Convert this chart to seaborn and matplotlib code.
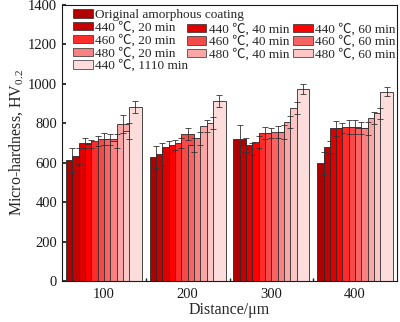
import matplotlib
matplotlib.use("Agg")
import matplotlib.pyplot as plt
from matplotlib.patches import Patch
from matplotlib.ticker import FixedLocator
import seaborn as sns
import pandas as pd
import numpy as np

# ---- data ----
distances = ["100", "200", "300", "400"]
conditions = ["Original amorphous coating",
              "440 \u2103, 20 min", "440 \u2103, 40 min", "440 \u2103, 60 min",
              "460 \u2103, 20 min", "460 \u2103, 40 min", "460 \u2103, 60 min",
              "480 \u2103, 20 min", "480 \u2103, 40 min", "480 \u2103, 60 min",
              "440 \u2103, 1110 min"]
colors = ["#b00000", "#c40000", "#dc0000", "#ff0000",
          "#ff2c2c", "#f54a4a", "#f86464",
          "#f88282", "#f8a6a6", "#fac6c6", "#fddcdc"]

hv_100 = [613, 633, 698, 693, 710, 721, 718, 711, 795, 760, 884]
hv_200 = [630, 643, 681, 689, 698, 744, 690, 723, 787, 800, 913]
hv_300 = [720, 690, 668, 706, 750, 752, 755, 757, 805, 876, 975]
hv_400 = [599, 681, 774, 775, 782, 782, 778, 774, 828, 850, 961]
err_100 = [60, 40, 25, 20, 25, 30, 30, 35, 45, 40, 30]
err_200 = [55, 55, 30, 25, 25, 30, 35, 35, 30, 30, 30]
err_300 = [70, 35, 30, 30, 30, 25, 30, 35, 30, 30, 25]
err_400 = [55, 30, 40, 25, 35, 35, 30, 35, 30, 30, 25]

hv_all = [hv_100, hv_200, hv_300, hv_400]
err_all = [err_100, err_200, err_300, err_400]

rows = []
for d, hv, er in zip(distances, hv_all, err_all):
    for c, v, e in zip(conditions, hv, er):
        rows.append({"Distance": d, "Condition": c, "HV": v, "Err": e})
df = pd.DataFrame(rows)

# ---- style ----
sns.set_theme(style="ticks")
plt.rcParams["font.family"] = ["Liberation Serif", "Noto Sans CJK SC", "DejaVu Sans"]
plt.rcParams["mathtext.fontset"] = "custom"
plt.rcParams["mathtext.rm"] = "Liberation Serif"
plt.rcParams["mathtext.it"] = "Liberation Serif:italic"

fig = plt.figure(figsize=(4.0, 3.22), dpi=100)
ax = fig.add_axes([0.155, 0.1273, 0.8375, 0.8572])

n = len(conditions)
total = 0.905
w = total / (n + 1)
sns.barplot(data=df, x="Distance", y="HV", hue="Condition", order=distances,
            hue_order=conditions, palette=colors, width=w * n, gap=-1.0,
            errorbar=None, edgecolor="#2a2a2a", linewidth=0.6, saturation=1,
            legend=False, ax=ax)

# error bars at bar centres
bar_containers = list(ax.containers)
for ci, cont in enumerate(bar_containers):
    xs = [b.get_x() + b.get_width() / 2 for b in cont.patches]
    ys = [b.get_height() for b in cont.patches]
    es = [err_all[di][ci] for di in range(len(distances))]
    ax.errorbar(xs, ys, yerr=es, fmt="none", ecolor="#333333",
                elinewidth=0.6, capsize=2.0, capthick=0.6, zorder=5)

ax.set_xlim(-0.5, 3.5)
ax.set_ylim(0, 1400)
ax.set_yticks(np.arange(0, 1401, 200))
ax.xaxis.set_minor_locator(FixedLocator([0.5, 1.5, 2.5]))
ax.tick_params(axis="both", which="both", direction="in", labelsize=10.5,
               colors="#1a1a1a")
ax.tick_params(axis="x", which="major", length=0, pad=5)
ax.tick_params(axis="x", which="minor", length=2.5)
ax.tick_params(axis="y", which="major", length=3)
for sp in ax.spines.values():
    sp.set_visible(True)
    sp.set_linewidth(0.8)
    sp.set_color("#1a1a1a")

ax.set_xlabel("Distance/\u03bcm", fontsize=11.5, labelpad=1)
ax.set_ylabel("Micro-hardness, HV$_{0.2}$", fontsize=11.5, labelpad=2)

# legends
handles = {c: Patch(facecolor=col, edgecolor="#2a2a2a", linewidth=0.5)
           for c, col in zip(conditions, colors)}
col1 = [conditions[0], conditions[1], conditions[4], conditions[7], conditions[10]]
leg1 = ax.legend([handles[c] for c in col1], col1, loc="upper left",
                 bbox_to_anchor=(0.032, 0.985), frameon=False, fontsize=9.5,
                 handlelength=1.5, handleheight=0.6, handletextpad=0.2,
                 labelspacing=0.02, borderpad=0, borderaxespad=0)
ax.add_artist(leg1)
col23 = [conditions[2], conditions[5], conditions[8],
         conditions[3], conditions[6], conditions[9]]
ax.legend([handles[c] for c in col23], col23, loc="upper left", ncol=2,
          bbox_to_anchor=(0.372, 0.935), frameon=False, fontsize=9.5,
          handlelength=1.5, handleheight=0.6, handletextpad=0.2,
          labelspacing=0.02, columnspacing=0.25, borderpad=0, borderaxespad=0)

fig.savefig("out.png", dpi=100)
